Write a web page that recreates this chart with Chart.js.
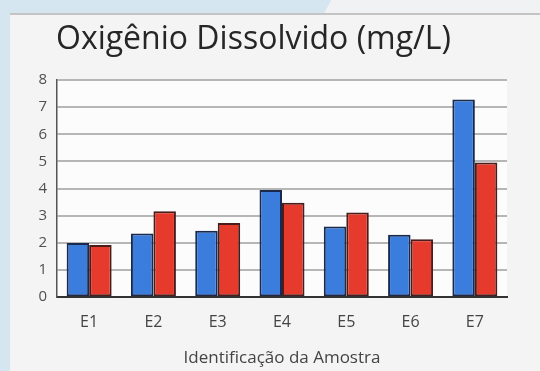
<!DOCTYPE html>
<html>
<head>
<meta charset="utf-8">
<script src="https://cdn.jsdelivr.net/npm/chart.js@4/dist/chart.umd.min.js"></script>
<style>
  html, body { margin: 0; padding: 0; }
  body {
    width: 540px; height: 371px; overflow: hidden; position: relative;
    background: linear-gradient(118deg, #d6e6f0 0px, #d6e6f0 292px, #f1f2f3 293px, #f1f2f3 100%);
  }
  #panel {
    position: absolute; left: 10px; top: 13px; width: 530px; height: 358px;
    background: #f4f4f4; border-top: 2px solid #c4c4c4;
  }
  #wrap { position: absolute; left: 0; top: 0; width: 540px; height: 371px; }
</style>
</head>
<body>
<div id="panel"></div>
<div id="wrap"><canvas id="c" width="540" height="371"></canvas></div>
<script>
const categories = ["E1", "E2", "E3", "E4", "E5", "E6", "E7"];
const seriesBlue = [2.0, 2.35, 2.45, 3.95, 2.6, 2.3, 7.28];
const seriesRed  = [1.92, 3.17, 2.73, 3.48, 3.12, 2.13, 4.96];
const yTicks = [0, 1, 2, 3, 4, 5, 6, 7, 8];
const titleText = "Oxigênio Dissolvido (mg/L)";
const xAxisTitle = "Identificação da Amostra";

const plotBg = {
  id: 'plotBg',
  beforeDraw(chart) {
    const { ctx, chartArea: a } = chart;
    ctx.save();
    ctx.fillStyle = '#fcfcfc';
    ctx.fillRect(a.left, a.top, a.right - a.left, a.bottom - a.top);
    ctx.restore();
  }
};

new Chart(document.getElementById('c'), {
  type: 'bar',
  data: {
    labels: categories,
    datasets: [
      { data: seriesBlue, backgroundColor: '#3b7ddd', borderColor: '#1b2a4c', borderWidth: 2, borderSkipped: false },
      { data: seriesRed, backgroundColor: '#e53a2c', borderColor: '#4a1c1c', borderWidth: 2, borderSkipped: false }
    ]
  },
  plugins: [plotBg],
  options: {
    responsive: false,
    animation: false,
    devicePixelRatio: 1,
    layout: { padding: { left: 0, right: 33, top: 0, bottom: 0 } },
    datasets: { bar: { categoryPercentage: 0.7, barPercentage: 1.0 } },
    plugins: {
      legend: { display: false },
      tooltip: { enabled: false },
      title: {
        display: true,
        text: titleText,
        color: '#262626',
        font: { family: "'Open Sans'", size: 32, weight: 'normal' },
        padding: { top: 20.3, bottom: 21.3 }
      }
    },
    scales: {
      x: {
        grid: { display: false, drawTicks: false },
        border: { display: true, color: '#333333', width: 2 },
        ticks: { color: '#444444', padding: 15.7, font: { family: "'Open Sans'", size: 16 } },
        title: {
          display: true, text: xAxisTitle, color: '#444444',
          font: { family: "'Open Sans'", size: 17 },
          padding: { top: 0, bottom: 2.8 }
        }
      },
      y: {
        min: 0, max: 8,
        afterFit(scale) { scale.width = 57; },
        afterBuildTicks(scale) { scale.ticks = yTicks.map(v => ({ value: v })); },
        grid: { color: '#b6b6b6', lineWidth: 2, drawTicks: false },
        border: { display: true, color: '#555555', width: 1.5 },
        ticks: { color: '#505050', padding: 10, font: { family: "'Open Sans'", size: 15 } }
      }
    }
  }
});
</script>
</body>
</html>
